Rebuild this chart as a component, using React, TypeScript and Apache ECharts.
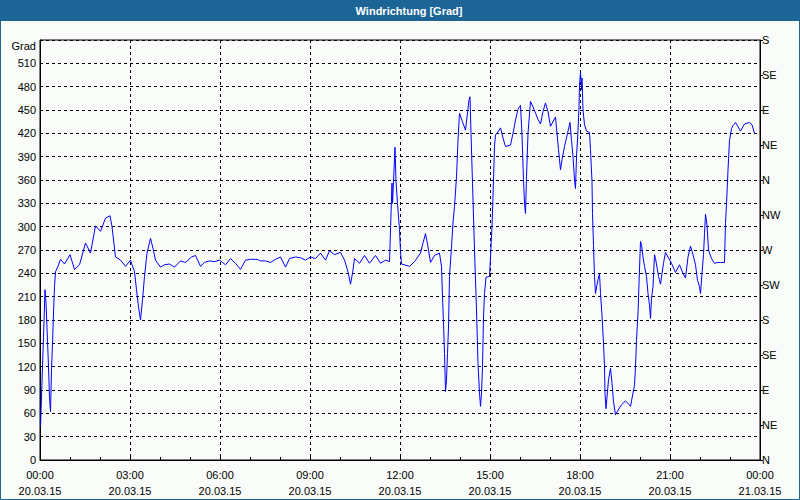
import React, { useEffect, useRef } from "react";
import * as echarts from "echarts";

const chartTitle = "Windrichtung [Grad]";
const yAxisName = "Grad";
const compassLabels = ["N", "NE", "E", "SE", "S", "SW", "W", "NW", "N", "NE", "E", "SE", "S"];

// minutes since 20.03.15 00:00
const times = [
  1, 3, 5, 7, 10, 12, 14, 17, 19, 21, 23, 25, 27, 29, 31, 36, 41, 49, 60, 69, 79, 91, 101, 111, 121, 131, 140, 144,
  151, 161, 171, 181, 189, 193, 197, 201, 205, 209, 214, 221, 226, 231, 241, 249, 259, 269, 281, 291, 303, 311, 321,
  329, 339, 349, 359, 371, 381, 391, 401, 411, 421, 434, 441, 451, 461, 471, 481, 491, 499, 511, 521, 531, 541, 551,
  561, 571, 579, 589, 601, 609, 616, 621, 625, 629, 639, 649, 659, 671, 681, 691, 699, 701, 704, 705, 707, 710, 712,
  715, 719, 721, 723, 739, 749, 761, 766, 771, 776, 781, 789, 799, 803, 805, 807, 809, 811, 813, 815, 817, 819, 823,
  826, 829, 833, 836, 839, 846, 851, 855, 858, 860, 862, 865, 869, 873, 876, 879, 881, 883, 885, 887, 889, 892, 899,
  901, 904, 907, 909, 911, 916, 921, 926, 931, 941, 946, 951, 956, 961, 964, 967, 969, 971, 973, 976, 981, 986, 991,
  996, 1001, 1006, 1011, 1016, 1021, 1031, 1034, 1037, 1041, 1044, 1049, 1055, 1060, 1063, 1066, 1069, 1071, 1073,
  1076, 1078, 1079, 1081, 1083, 1084, 1086, 1089, 1093, 1099, 1101, 1104, 1105, 1107, 1109, 1111, 1115, 1119, 1121,
  1124, 1127, 1129, 1130, 1132, 1137, 1141, 1144, 1147, 1151, 1156, 1163, 1171, 1181, 1186, 1189, 1191, 1193, 1196,
  1198, 1201, 1203, 1206, 1209, 1213, 1216, 1219, 1221, 1223, 1226, 1229, 1231, 1235, 1237, 1241, 1244, 1247, 1251,
  1256, 1263, 1271, 1279, 1286, 1291, 1296, 1301, 1306, 1311, 1315, 1319, 1321, 1324, 1327, 1329, 1331, 1334, 1337,
  1343, 1349, 1356, 1361, 1369, 1371, 1374, 1376, 1379, 1383, 1386, 1391, 1401, 1409, 1419, 1424, 1429,
];

const directions = [
  43, 81, 120, 158, 219, 202, 170, 120, 80, 62, 116, 150, 189, 223, 242, 249, 258, 252, 264, 245, 251, 279, 266, 301,
  294, 311, 314, 300, 261, 257, 249, 257, 242, 219, 197, 180, 206, 236, 266, 285, 272, 257, 248, 251, 252, 248, 256,
  254, 261, 263, 249, 254, 256, 255, 257, 251, 259, 253, 245, 257, 258, 258, 256, 256, 254, 258, 261, 248, 259, 261,
  260, 257, 261, 259, 266, 257, 269, 264, 267, 257, 242, 226, 240, 259, 253, 263, 253, 263, 253, 257, 255, 296, 356,
  330, 358, 402, 358, 330, 296, 268, 252, 249, 255, 266, 279, 291, 274, 254, 263, 266, 249, 210, 176, 137, 88, 103,
  137, 171, 236, 274, 306, 326, 364, 411, 446, 433, 424, 446, 463, 467, 420, 356, 270, 193, 124, 86, 69, 86, 120, 184,
  214, 235, 236, 261, 300, 360, 403, 418, 422, 427, 414, 403, 405, 420, 437, 451, 456, 418, 360, 330, 317, 364, 420,
  461, 454, 446, 438, 432, 448, 459, 448, 429, 441, 420, 399, 373, 386, 403, 420, 434, 411, 390, 360, 349, 390, 424,
  454, 482, 499, 476, 491, 450, 431, 423, 421, 399, 358, 317, 276, 236, 214, 229, 240, 214, 186, 150, 120, 86, 66,
  103, 118, 99, 75, 58, 64, 71, 76, 69, 86, 96, 120, 154, 189, 227, 281, 277, 261, 249, 236, 214, 199, 182, 208, 223,
  264, 259, 244, 236, 226, 240, 253, 267, 261, 253, 241, 251, 240, 234, 261, 275, 264, 251, 231, 223, 214, 240, 264,
  291, 316, 302, 270, 259, 253, 254, 254, 254, 304, 343, 373, 411, 426, 430, 434, 423, 432, 434, 431, 420,
];

const FONT = "'Liberation Sans', Arial, sans-serif";

function pad(n: number) {
  return n < 10 ? "0" + n : "" + n;
}

export default function App() {
  const ref = useRef<HTMLDivElement>(null);
  useEffect(() => {
    if (!ref.current) return;
    const chart = echarts.init(ref.current, undefined, { renderer: "svg" });
    const data = times.map((t, i) => [t, directions[i]]);
    chart.setOption({
      animation: false,
      backgroundColor: "#fafcfa",
      textStyle: { fontFamily: FONT },
      graphic: [
        {
          type: "rect",
          shape: { x: 0.5, y: 0.5, width: 799, height: 499 },
          style: { fill: "none", stroke: "#1d6497", lineWidth: 1 },
          silent: true,
        },
        {
          type: "rect",
          shape: { x: 0, y: 0, width: 800, height: 21 },
          style: { fill: "#1d6497" },
          silent: true,
        },
        {
          type: "text",
          x: 409,
          y: 11,
          style: {
            text: chartTitle,
            fill: "#ffffff",
            font: "bold 11px " + FONT,
            align: "center",
            verticalAlign: "middle",
          },
          silent: true,
        },
        {
          type: "text",
          x: 36,
          y: 46,
          style: {
            text: yAxisName,
            fill: "#000000",
            font: "11px " + FONT,
            align: "right",
            verticalAlign: "middle",
          },
          silent: true,
        },
      ],
      grid: {
        left: 40,
        top: 40,
        width: 720,
        height: 420,
        show: true,
        borderColor: "#000",
        borderWidth: 1,
        backgroundColor: "transparent",
      },
      xAxis: {
        type: "value",
        min: 0,
        max: 1440,
        interval: 180,
        axisLine: { show: true, lineStyle: { color: "#000", width: 1 } },
        axisTick: { show: true, inside: true, length: 3, lineStyle: { color: "#000" } },
        minorTick: { show: true, splitNumber: 3, length: 3, lineStyle: { color: "#000" } },
        splitLine: { show: true, lineStyle: { color: "#000", type: [3, 3], width: 1 } },
        axisLabel: {
          color: "#000",
          fontSize: 11,
          fontFamily: FONT,
          lineHeight: 16,
          margin: 7,
          formatter: (v: number) => {
            const h = Math.floor(v / 60) % 24;
            const m = v % 60;
            const date = v >= 1440 ? "21.03.15" : "20.03.15";
            return pad(h) + ":" + pad(m) + "\n" + date;
          },
        },
      },
      yAxis: [
        {
          type: "value",
          min: 0,
          max: 540,
          interval: 30,
          position: "left",
          axisLine: { show: true, lineStyle: { color: "#000" } },
          axisTick: { show: false },
          splitLine: { show: true, lineStyle: { color: "#000", type: [3, 3], width: 1 } },
          axisLabel: {
            color: "#000",
            fontSize: 11,
            fontFamily: FONT,
            margin: 4,
            formatter: (v: number) => (v === 540 ? "" : String(v)),
          },
        },
        {
          type: "value",
          min: 0,
          max: 540,
          interval: 45,
          position: "right",
          axisLine: { show: true, lineStyle: { color: "#000" } },
          axisTick: { show: true, length: 3, lineStyle: { color: "#000" } },
          splitLine: { show: false },
          axisLabel: {
            color: "#000",
            fontSize: 11,
            fontFamily: FONT,
            margin: 2,
            formatter: (v: number) => compassLabels[Math.round(v / 45)] ?? "",
          },
        },
      ],
      series: [
        {
          type: "line",
          data,
          yAxisIndex: 0,
          symbol: "none",
          lineStyle: { color: "#0000ff", width: 1 },
          itemStyle: { color: "#0000ff" },
        },
      ],
    });
    return () => chart.dispose();
  }, []);
  return (
    <div
      ref={ref}
      style={{ position: "absolute", left: 0, top: 0, width: 800, height: 500 }}
    />
  );
}
